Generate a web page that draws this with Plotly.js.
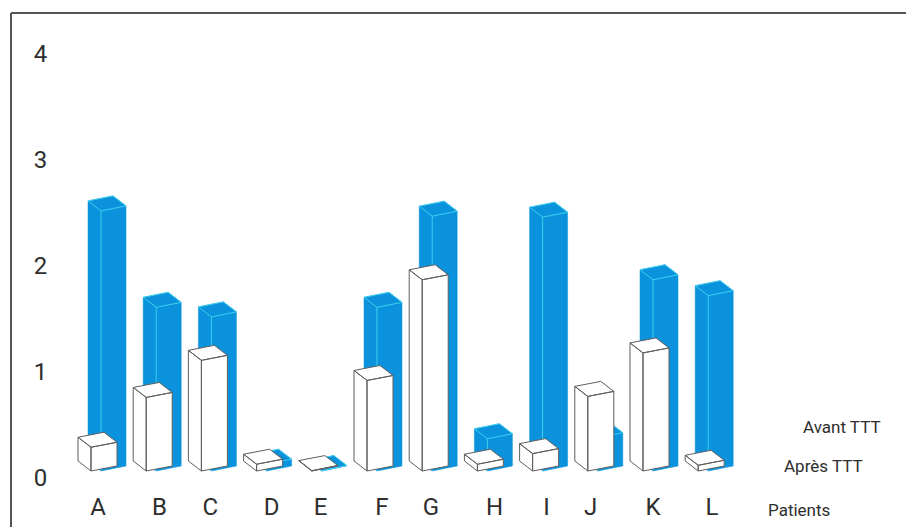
<!DOCTYPE html>
<html>
<head>
<meta charset="utf-8">
<script src="https://cdn.plot.ly/plotly-3.0.1.min.js"></script>
<style>html,body{margin:0;padding:0;background:#fff;overflow:hidden}#chart{width:906px;height:527px}</style>
</head>
<body>
<div id="chart"></div>
<script>
const patients = ['A','B','C','D','E','F','G','H','I','J','K','L'];
const avantTTT = [2.52,1.61,1.52,0.13,0.07,1.61,2.47,0.37,2.46,0.38,1.87,1.72];
const apresTTT = [0.29,0.76,1.11,0.13,0.07,0.92,1.87,0.13,0.23,0.77,1.18,0.12];
const yTicks = [0,1,2,3,4];
const labelNudge = [0.13,0.24,0.16,0.27,0.16,0.27,0.16,0.31,0.25,0.05,0.18,0.25];

const W = 906, H = 527, L = 58, T = 13, B = 46;
const pxX = 55.2, x0 = 91, pxY = 106, y0 = 478;
const base = 7 / pxY;
const blueShift = 10 / pxX;
const dxL = -13 / pxX;
const dyL = 10 / pxY, dyR = 5 / pxY, dyB = 15 / pxY;

function faces(i, v, shift, widthR) {
  const dxR = widthR / pxX;
  const x = i + shift;
  const f = {x, xl: x + dxL, xr: x + dxR, xb: x + dxL + dxR};
  return {
    left:  [[f.x,base],[f.xl,base+dyL],[f.xl,v+dyL],[f.x,v],[f.x,base]],
    right: [[f.x,base],[f.xr,base+dyR],[f.xr,v+dyR],[f.x,v],[f.x,base]],
    top:   [[f.x,v],[f.xl,v+dyL],[f.xb,v+dyB],[f.xr,v+dyR],[f.x,v]],
    edges: [[f.x,base],[f.x,v],[f.xl,v+dyL],[f.xb,v+dyB],[f.xr,v+dyR],[f.x,v]]
  };
}
function polyTrace(paths, fill, lineColor, lineWidth) {
  const xs = [], ys = [];
  paths.forEach(p => { p.forEach(q => { xs.push(q[0]); ys.push(q[1]); }); xs.push(null); ys.push(null); });
  return {
    type:'scatter', mode:'lines', x:xs, y:ys,
    fill: fill ? 'toself' : 'none', fillcolor: fill || undefined,
    line:{color:lineColor, width:lineWidth},
    hoverinfo:'skip', showlegend:false
  };
}
const blueFaces = avantTTT.map((v,i) => faces(i, v, blueShift, 25));
const whiteFaces = apresTTT.map((v,i) => faces(i, v, 0, 26));
const traces = [
  polyTrace(blueFaces.flatMap(f => [f.left,f.right,f.top]), '#0a92dc', '#0a92dc', 0.5),
  polyTrace(blueFaces.map(f => f.edges), null, '#3fd0ee', 1),
  polyTrace(whiteFaces.flatMap(f => [f.left,f.right,f.top]), '#ffffff', '#5f5f5f', 1)
];

const plotW = W - L, plotH = H - T - B;
const axisFont = {family:'Roboto,"Liberation Sans",sans-serif', size:24, color:'#2e2e2e'};
const noteFont = {family:'Roboto,"Liberation Sans",sans-serif', size:17, color:'#2e2e2e'};
function note(text, cx, cy) {
  return {text, xref:'paper', yref:'paper', x:(cx-L)/plotW, y:(H-B-cy)/plotH,
          xanchor:'center', yanchor:'middle', showarrow:false, font:noteFont};
}
function frame(x1,y1,x2,y2) {
  return {type:'line', xref:'paper', yref:'paper',
          x0:(x1-L)/plotW, x1:(x2-L)/plotW, y0:(H-B-y1)/plotH, y1:(H-B-y2)/plotH,
          line:{color:'#555555', width:2}};
}
const layout = {
  width:W, height:H, margin:{l:L, r:0, t:T, b:B, pad:0},
  paper_bgcolor:'#ffffff', plot_bgcolor:'#ffffff', showlegend:false,
  xaxis:{range:[(L-x0)/pxX,(W-x0)/pxX], showgrid:false, zeroline:false, showline:false,
         tickmode:'array', tickvals:patients.map((_,i)=>i+labelNudge[i]), ticktext:patients,
         tickangle:0, ticks:'outside', ticklen:4, tickcolor:'rgba(0,0,0,0)', tickfont:axisFont},
  yaxis:{range:[(y0-(H-B))/pxY,(y0-T)/pxY], showgrid:false, zeroline:false, showline:false,
         tickmode:'array', tickvals:yTicks, ticktext:yTicks.map(String),
         ticks:'outside', ticklen:5, tickcolor:'rgba(0,0,0,0)', tickfont:axisFont},
  shapes:[frame(11,13,906,13), frame(11,13,11,527)],
  annotations:[note('Avant TTT',842,427), note('Après TTT',823,466), note('Patients',799,510)]
};
Plotly.newPlot('chart', traces, layout, {staticPlot:true, displayModeBar:false});
</script>
</body>
</html>
